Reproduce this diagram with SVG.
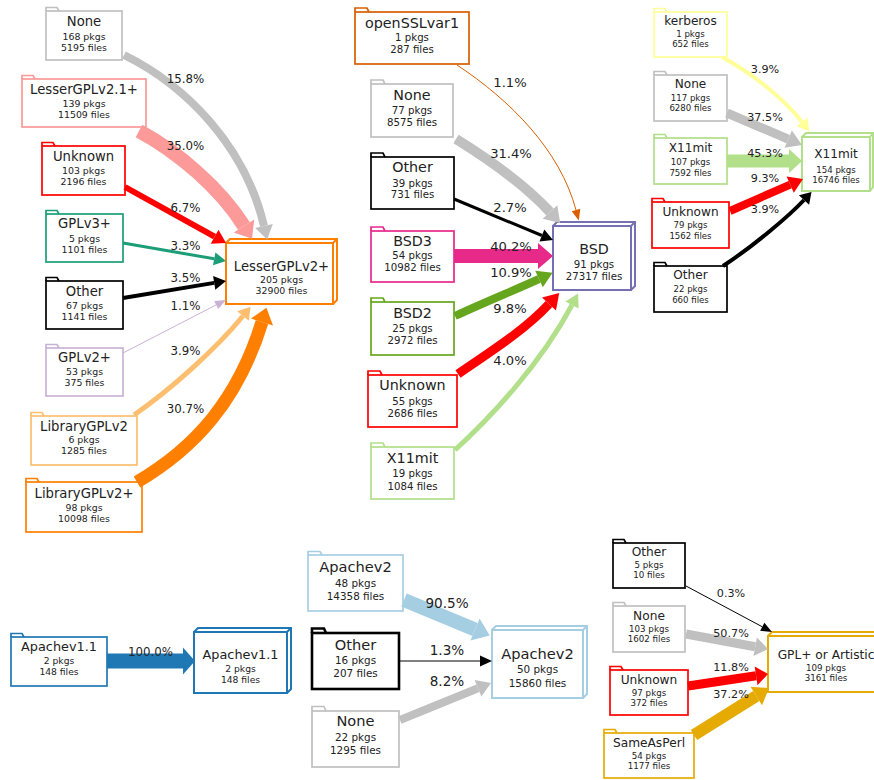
<svg xmlns="http://www.w3.org/2000/svg" width="874" height="780" viewBox="0 0 874 780">
<style>
text{font-family:"DejaVu Sans","Liberation Sans",sans-serif;fill:#222;stroke:none;text-anchor:middle}
.node rect,.node path{fill:#fff;stroke-width:1.7}
.node path.tab,.node path.d3{fill:none}
.tgt rect,.tgt path{stroke-width:2}
.edges path{fill:none;stroke-linecap:butt}
.edges polygon{stroke:none}
.cTL .h{font-size:13.2px}.cTL .s{font-size:9.4px}.cTL .e{font-size:11.8px}
.cTM .h{font-size:14.3px}.cTM .s{font-size:10.2px}.cTM .e{font-size:13.1px}
.cTR .h{font-size:12.1px}.cTR .s{font-size:8.6px}.cTR .e{font-size:11.2px}
.cBL .h{font-size:12.85px}.cBL .s{font-size:9.2px}.cBL .e{font-size:11.8px}
.cBM .h{font-size:14.6px}.cBM .s{font-size:10.4px}.cBM .e{font-size:13.6px}
.cBR .h{font-size:12.2px}.cBR .s{font-size:8.7px}.cBR .e{font-size:11.2px}
.gry{stroke:#c0c0c0;fill:#c0c0c0}.pnk{stroke:#fb9a99;fill:#fb9a99}.red{stroke:#ff0000;fill:#ff0000}
.tea{stroke:#1b9e77;fill:#1b9e77}.blk{stroke:#000;fill:#000}.lav{stroke:#cab2d6;fill:#cab2d6}
.lor{stroke:#fdbf6f;fill:#fdbf6f}.org{stroke:#ff7f00;fill:#ff7f00}.dor{stroke:#d95f02;fill:#d95f02}
.mag{stroke:#e7298a;fill:#e7298a}.olv{stroke:#66a61e;fill:#66a61e}.lgr{stroke:#b2df8a;fill:#b2df8a}
.yel{stroke:#ffff99;fill:#ffff99}.blu{stroke:#1f78b4;fill:#1f78b4}.lbl{stroke:#a6cee3;fill:#a6cee3}
.gld{stroke:#e6ab02;fill:#e6ab02}.pur{stroke:#7570b3;fill:#7570b3}
</style>
<rect width="874" height="780" fill="#fff"/>

<!-- ===== Top-left cluster ===== -->
<g class="cTL">
<g id="tl_none" class="node gry"><rect x="46" y="11" width="76" height="49"/><path class="tab" d="M46,11V7.5H57L59,11"/><text class="h" x="84" y="26">None</text><text class="s" x="84" y="39.5">168 pkgs</text><text class="s" x="84" y="50.5">5195 files</text></g>
<g id="tl_lgpl21" class="node pnk"><rect x="22" y="79" width="124" height="48"/><path class="tab" d="M22,79V75.5H33L35,79"/><text class="h" x="84" y="94">LesserGPLv2.1+</text><text class="s" x="84" y="107">139 pkgs</text><text class="s" x="84" y="118">11509 files</text></g>
<g id="tl_unknown" class="node red"><rect x="42" y="146" width="83" height="49"/><path class="tab" d="M42,146V142.5H53L55,146"/><text class="h" x="83.5" y="161">Unknown</text><text class="s" x="83.5" y="174">103 pkgs</text><text class="s" x="83.5" y="185">2196 files</text></g>
<g id="tl_gplv3" class="node tea"><rect x="46" y="214" width="77" height="48"/><path class="tab" d="M46,214V210.5H57L59,214"/><text class="h" x="84.5" y="228">GPLv3+</text><text class="s" x="84.5" y="242">5 pkgs</text><text class="s" x="84.5" y="253">1101 files</text></g>
<g id="tl_other" class="node blk"><rect x="46" y="281" width="77" height="48"/><path class="tab" d="M46,281V277.5H57L59,281"/><text class="h" x="84.5" y="296">Other</text><text class="s" x="84.5" y="309">67 pkgs</text><text class="s" x="84.5" y="320">1141 files</text></g>
<g id="tl_gplv2" class="node lav"><rect x="46" y="348" width="77" height="48"/><path class="tab" d="M46,348V344.5H57L59,348"/><text class="h" x="84.5" y="362">GPLv2+</text><text class="s" x="84.5" y="375">53 pkgs</text><text class="s" x="84.5" y="386">375 files</text></g>
<g id="tl_libgpl2" class="node lor"><rect x="31" y="416" width="106" height="49"/><path class="tab" d="M31,416V412.5H42L44,416"/><text class="h" x="84" y="431">LibraryGPLv2</text><text class="s" x="84" y="443">6 pkgs</text><text class="s" x="84" y="454">1285 files</text></g>
<g id="tl_libgpl2p" class="node org"><rect x="26" y="482" width="116" height="50"/><path class="tab" d="M26,482V478.5H37L39,482"/><text class="h" x="84" y="498">LibraryGPLv2+</text><text class="s" x="84" y="511">98 pkgs</text><text class="s" x="84" y="522">10098 files</text></g>
<g id="tl_target" class="node tgt org"><rect x="226" y="243" width="107" height="61"/><path class="d3" d="M226,243L230,239H337V300L333,304M333,243L337,239"/><text class="h" x="281.5" y="271">LesserGPLv2+</text><text class="s" x="281.5" y="283">205 pkgs</text><text class="s" x="281.5" y="294">32900 files</text></g>
</g>

<!-- ===== Top-middle cluster ===== -->
<g class="cTM">
<g id="tm_openssl" class="node dor"><rect x="355" y="12" width="114" height="52"/><path class="tab" d="M355,12V8H367L369,12"/><text class="h" x="412" y="28">openSSLvar1</text><text class="s" x="412" y="41">1 pkgs</text><text class="s" x="412" y="53">287 files</text></g>
<g id="tm_none" class="node gry"><rect x="371" y="84" width="82" height="53"/><path class="tab" d="M371,84V80H383L385,84"/><text class="h" x="412" y="100">None</text><text class="s" x="412" y="114">77 pkgs</text><text class="s" x="412" y="126">8575 files</text></g>
<g id="tm_other" class="node blk"><rect x="371" y="157" width="83" height="52"/><path class="tab" d="M371,157V153H383L385,157"/><text class="h" x="412.5" y="172">Other</text><text class="s" x="412.5" y="187">39 pkgs</text><text class="s" x="412.5" y="198">731 files</text></g>
<g id="tm_bsd3" class="node mag"><rect x="371" y="231" width="83" height="51"/><path class="tab" d="M371,231V227H383L385,231"/><text class="h" x="412.5" y="246">BSD3</text><text class="s" x="412.5" y="259">54 pkgs</text><text class="s" x="412.5" y="271">10982 files</text></g>
<g id="tm_bsd2" class="node olv"><rect x="371" y="302" width="83" height="53"/><path class="tab" d="M371,302V298H383L385,302"/><text class="h" x="412.5" y="318">BSD2</text><text class="s" x="412.5" y="332">25 pkgs</text><text class="s" x="412.5" y="344">2972 files</text></g>
<g id="tm_unknown" class="node red"><rect x="368" y="375" width="89" height="52"/><path class="tab" d="M368,375V371H380L382,375"/><text class="h" x="412.5" y="390">Unknown</text><text class="s" x="412.5" y="405">55 pkgs</text><text class="s" x="412.5" y="417">2686 files</text></g>
<g id="tm_x11" class="node lgr"><rect x="371" y="447" width="83" height="52"/><path class="tab" d="M371,447V443H383L385,447"/><text class="h" x="412.5" y="463">X11mit</text><text class="s" x="412.5" y="477">19 pkgs</text><text class="s" x="412.5" y="490">1084 files</text></g>
<g id="tm_target" class="node tgt pur"><rect x="553" y="226" width="78" height="64"/><path class="d3" d="M553,226L557,222H635V286L631,290M631,226L635,222"/><text class="h" x="594" y="254">BSD</text><text class="s" x="594" y="268">91 pkgs</text><text class="s" x="594" y="280">27317 files</text></g>
</g>

<!-- ===== Top-right cluster ===== -->
<g class="cTR">
<g id="tr_kerb" class="node yel"><rect x="654" y="12" width="73" height="45"/><path class="tab" d="M654,12V8.5H665L667,12"/><text class="h" x="690.5" y="25">kerberos</text><text class="s" x="690.5" y="37">1 pkgs</text><text class="s" x="690.5" y="47">652 files</text></g>
<g id="tr_none" class="node gry"><rect x="654" y="75" width="73" height="46"/><path class="tab" d="M654,75V71.5H665L667,75"/><text class="h" x="690.5" y="88">None</text><text class="s" x="690.5" y="101">117 pkgs</text><text class="s" x="690.5" y="111">6280 files</text></g>
<g id="tr_x11" class="node lgr"><rect x="654" y="138" width="73" height="46"/><path class="tab" d="M654,138V134.5H665L667,138"/><text class="h" x="690.5" y="152">X11mit</text><text class="s" x="690.5" y="165">107 pkgs</text><text class="s" x="690.5" y="176">7592 files</text></g>
<g id="tr_unknown" class="node red"><rect x="652" y="202" width="77" height="46"/><path class="tab" d="M652,202V198.5H663L665,202"/><text class="h" x="690.5" y="216">Unknown</text><text class="s" x="690.5" y="228">79 pkgs</text><text class="s" x="690.5" y="239">1562 files</text></g>
<g id="tr_other" class="node blk"><rect x="654" y="266" width="73" height="46"/><path class="tab" d="M654,266V262.5H665L667,266"/><text class="h" x="690.5" y="279">Other</text><text class="s" x="690.5" y="292">22 pkgs</text><text class="s" x="690.5" y="303">660 files</text></g>
<g id="tr_target" class="node tgt lgr"><rect x="802" y="137" width="68" height="54"/><path class="d3" d="M802,137L806,133H873V187L870,191M870,137L873,133"/><text class="h" x="836" y="158">X11mit</text><text class="s" x="836" y="173">154 pkgs</text><text class="s" x="836" y="183">16746 files</text></g>
</g>

<!-- ===== Bottom-left cluster ===== -->
<g class="cBL">
<g id="bl_src" class="node blu"><rect x="11" y="637" width="96" height="49"/><path class="tab" d="M11,637V633.5H22L24,637"/><text class="h" x="59" y="651">Apachev1.1</text><text class="s" x="59" y="664">2 pkgs</text><text class="s" x="59" y="675">148 files</text></g>
<g id="bl_target" class="node tgt blu"><rect x="194" y="632" width="93" height="61"/><path class="d3" d="M194,632L198,628H291V689L287,693M287,632L291,628"/><text class="h" x="240.5" y="659">Apachev1.1</text><text class="s" x="240.5" y="672">2 pkgs</text><text class="s" x="240.5" y="683">148 files</text></g>
</g>

<!-- ===== Bottom-middle cluster ===== -->
<g class="cBM">
<g id="bm_apache2" class="node lbl"><rect x="308" y="555" width="95" height="56"/><path class="tab" d="M308,555V551.5H320L322,555"/><text class="h" x="355.5" y="572">Apachev2</text><text class="s" x="355.5" y="587">48 pkgs</text><text class="s" x="355.5" y="600">14358 files</text></g>
<g id="bm_other" class="node blk"><rect x="312" y="633" width="87" height="56" style="stroke-width:2.6"/><path class="tab" d="M312,633V628.5H324L326,633" style="stroke-width:2.6"/><text class="h" x="355.5" y="650">Other</text><text class="s" x="355.5" y="664">16 pkgs</text><text class="s" x="355.5" y="677">207 files</text></g>
<g id="bm_none" class="node gry"><rect x="312" y="711" width="87" height="56"/><path class="tab" d="M312,711V706.5H324L326,711"/><text class="h" x="355.5" y="726">None</text><text class="s" x="355.5" y="741">22 pkgs</text><text class="s" x="355.5" y="754">1295 files</text></g>
<g id="bm_target" class="node tgt lbl"><rect x="492" y="630" width="91" height="68"/><path class="d3" d="M492,630L496,626H587V694L583,698M583,630L587,626"/><text class="h" x="537.5" y="659">Apachev2</text><text class="s" x="537.5" y="673">50 pkgs</text><text class="s" x="537.5" y="687">15860 files</text></g>
</g>

<!-- ===== Bottom-right cluster ===== -->
<g class="cBR">
<g id="br_other" class="node blk"><rect x="613" y="543" width="72" height="45"/><path class="tab" d="M613,543V539.5H624L626,543"/><text class="h" x="649" y="556">Other</text><text class="s" x="649" y="568">5 pkgs</text><text class="s" x="649" y="578">10 files</text></g>
<g id="br_none" class="node gry"><rect x="613" y="606" width="72" height="46"/><path class="tab" d="M613,606V602.5H624L626,606"/><text class="h" x="649" y="620">None</text><text class="s" x="649" y="632">103 pkgs</text><text class="s" x="649" y="642">1602 files</text></g>
<g id="br_unknown" class="node red"><rect x="610" y="670" width="78" height="45"/><path class="tab" d="M610,670V666.5H621L623,670"/><text class="h" x="649" y="684">Unknown</text><text class="s" x="649" y="696">97 pkgs</text><text class="s" x="649" y="706">372 files</text></g>
<g id="br_perl" class="node gld"><rect x="604" y="733" width="90" height="45"/><path class="tab" d="M604,733V729.5H615L617,733"/><text class="h" x="649" y="747">SameAsPerl</text><text class="s" x="649" y="759">54 pkgs</text><text class="s" x="649" y="769">1177 files</text></g>
<g id="br_target" class="node tgt gld"><rect x="768" y="636" width="118" height="56"/><path class="d3" d="M768,636L772,632H890V688L886,692M886,636L890,632"/><text class="h" x="826" y="659">GPL+ or Artistic</text><text class="s" x="826" y="671">109 pkgs</text><text class="s" x="826" y="681">3161 files</text></g>
</g>

<!-- ===== Connectors ===== -->
<g id="connectors" class="edges">
<g class="cTL">
<path class="gry" style="stroke-width:8" d="M124,55C185,85 245,145 264,226"/><polygon class="gry" points="267.2,239.6 255.2,228.1 272.8,223.9"/>
<path class="pnk" style="stroke-width:14" d="M139,131C178,152 220,188 244,226"/><polygon class="pnk" points="252,238.7 233.8,232.4 254.2,219.6"/>
<path class="red" style="stroke-width:6" d="M125,187L214.6,236.7"/><polygon class="red" points="226,243 210.7,243.7 218.5,229.7"/>
<path class="tea" style="stroke-width:3" d="M123,243L214.2,258.8"/><polygon class="tea" points="226,261 213,265.2 215.4,252.4"/>
<path class="blk" style="stroke-width:4" d="M123,298L214.2,282.9"/><polygon class="blk" points="226,281 215.3,289.8 213.1,276"/>
<path class="lav" style="stroke-width:1" d="M123,353L216.2,304.9"/><polygon class="lav" points="226,300 218.2,308.9 214.2,300.9"/>
<path class="lor" style="stroke-width:5" d="M134,415C170,390 215,350 243,316"/><polygon class="lor" points="250.6,306.7 248.8,320.8 237.2,311.2"/>
<path class="org" style="stroke-width:13" d="M137,482C195,448 238,400 262,322"/><polygon class="org" points="266.4,307.7 273,325.4 251,318.6"/>
<text class="e" x="185.5" y="83">15.8%</text>
<text class="e" x="185.5" y="150">35.0%</text>
<text class="e" x="185.5" y="212">6.7%</text>
<text class="e" x="185.5" y="250">3.3%</text>
<text class="e" x="185.5" y="282">3.5%</text>
<text class="e" x="185.5" y="310">1.1%</text>
<text class="e" x="185.5" y="355">3.9%</text>
<text class="e" x="185.5" y="413">30.7%</text>
</g>
<g class="cTM">
<path class="dor" style="stroke-width:1" d="M457,65C510,100 560,150 576,210"/><polygon class="dor" points="578.8,220.6 571.7,211.2 580.3,208.8"/>
<path class="gry" style="stroke-width:10" d="M456,139C490,160 525,185 550,212"/><polygon class="gry" points="560.2,223 542.7,218.8 557.3,205.2"/>
<path class="blk" style="stroke-width:3" d="M454,199L541.9,235.5"/><polygon class="blk" points="553,240 539.5,241.5 544.3,229.5"/>
<path class="mag" style="stroke-width:14" d="M454,256H538"/><polygon class="mag" points="553,256 538,243 538,269"/>
<path class="olv" style="stroke-width:8" d="M455,316C485,302 515,290 539,279"/><polygon class="olv" points="552.6,272.7 542.8,287.2 535.2,270.8"/>
<path class="red" style="stroke-width:9" d="M458,374C490,352 525,330 549,304"/><polygon class="red" points="559.2,293 556,310.4 542,297.6"/>
<path class="lgr" style="stroke-width:5" d="M455,450C490,418 540,365 572,305"/><polygon class="lgr" points="578.1,293.5 578.6,308.5 565.4,301.5"/>
<text class="e" x="510" y="87">1.1%</text>
<text class="e" x="511" y="158">31.4%</text>
<text class="e" x="510" y="212">2.7%</text>
<text class="e" x="511" y="251">40.2%</text>
<text class="e" x="511" y="277">10.9%</text>
<text class="e" x="510" y="313">9.8%</text>
<text class="e" x="510" y="365">4.0%</text>
</g>
<g class="cTR">
<path class="yel" style="stroke-width:4" d="M722,57C755,75 785,100 802,122"/><polygon class="yel" points="809.3,131.5 796.5,126.3 807.5,117.7"/>
<path class="gry" style="stroke-width:9" d="M727,113L788.2,139.1"/><polygon class="gry" points="802,145 784.5,147.8 791.9,130.4"/>
<path class="lgr" style="stroke-width:13" d="M727,161H789"/><polygon class="lgr" points="802,161 789,149 789,173"/>
<path class="red" style="stroke-width:8" d="M730,211L790.2,184.6"/><polygon class="red" points="803,179 793.8,192.8 786.6,176.4"/>
<path class="blk" style="stroke-width:4" d="M723,266C755,245 790,215 804,200"/><polygon class="blk" points="811.5,191.9 809.1,204.8 798.9,195.2"/>
<text class="e" x="765" y="73">3.9%</text>
<text class="e" x="765" y="121">37.5%</text>
<text class="e" x="765" y="157">45.3%</text>
<text class="e" x="765" y="182">9.3%</text>
<text class="e" x="765" y="213">3.9%</text>
</g>
<g class="cBL">
<path class="blu" style="stroke-width:15" d="M107,661H183"/><polygon class="blu" points="195,661 183,647.5 183,674.5"/>
<text class="e" x="150.5" y="656">100.0%</text>
</g>
<g class="cBM">
<path class="lbl" style="stroke-width:14" d="M404,600L475,629.5"/><polygon class="lbl" points="489.8,635.6 470.4,640.6 479.6,618.4"/>
<path class="blk" style="stroke-width:1" d="M399,661H480"/><polygon class="blk" points="492,661 480,655.5 480,666.5"/>
<path class="gry" style="stroke-width:8" d="M400,720L478,688.3"/><polygon class="gry" points="491,683 481.4,696.6 474.6,680"/>
<text class="e" x="447" y="608">90.5%</text>
<text class="e" x="447" y="655">1.3%</text>
<text class="e" x="447" y="686">8.2%</text>
</g>
<g class="cBR">
<path class="blk" style="stroke-width:1" d="M686,586L762.3,626.8"/><polygon class="blk" points="772,632 760.2,630.8 764.4,622.8"/>
<path class="gry" style="stroke-width:9" d="M686,634L755.2,646.7"/><polygon class="gry" points="768,649 753.5,656 756.9,637.4"/>
<path class="red" style="stroke-width:9" d="M688,686L756.1,675.8"/><polygon class="red" points="768,674 757.5,685.2 754.7,666.4"/>
<path class="gld" style="stroke-width:12" d="M694,735L756.3,696"/><polygon class="gld" points="769,688 762.1,705.3 750.5,686.7"/>
<text class="e" x="731" y="597">0.3%</text>
<text class="e" x="731" y="637">50.7%</text>
<text class="e" x="731" y="671">11.8%</text>
<text class="e" x="731" y="698">37.2%</text>
</g>
</g>
</svg>
